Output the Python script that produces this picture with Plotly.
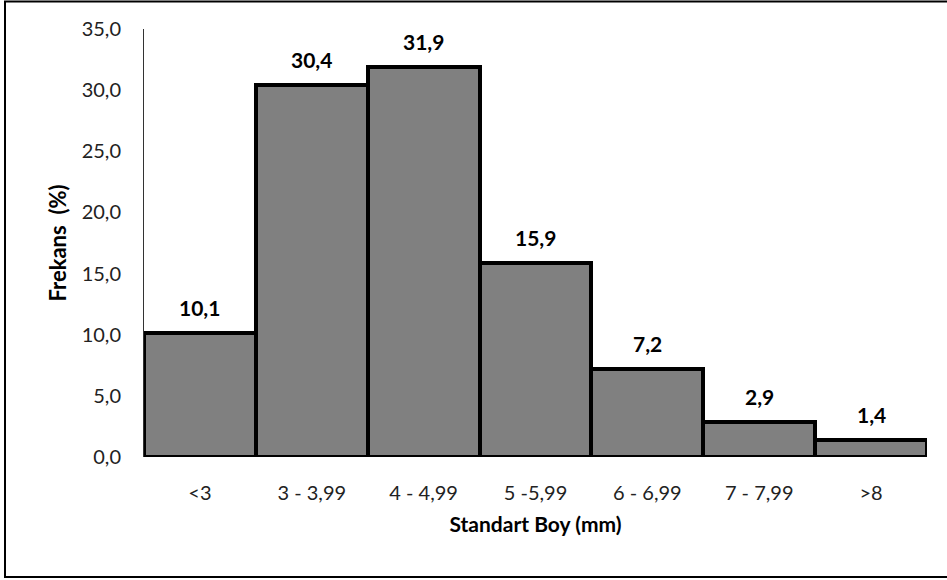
import plotly.graph_objects as go

categories = ["<3", "3 - 3,99", "4 - 4,99", "5 -5,99", "6 - 6,99", "7 - 7,99", ">8"]
values = [10.1, 30.4, 31.9, 15.9, 7.2, 2.9, 1.4]
y_ticks = [0, 5, 10, 15, 20, 25, 30, 35]
y_tick_labels = [f"{v:.1f}".replace(".", ",") for v in y_ticks]
value_labels = [f"{v:.1f}".replace(".", ",") for v in values]

FONT = "Lato, 'Open Sans', sans-serif"

fig = go.Figure()
fig.add_trace(go.Bar(
    x=categories, y=values,
    marker=dict(color="#808080", line=dict(color="black", width=4)),
    hoverinfo="skip",
))

for c, v, t in zip(categories, values, value_labels):
    fig.add_annotation(x=c, y=v, text=f"<b>{t}</b>", showarrow=False,
                       yanchor="bottom", yshift=11,
                       font=dict(family=FONT, size=21, color="black"))

fig.update_layout(
    width=947, height=580,
    margin=dict(l=144, r=20, t=29, b=123),
    paper_bgcolor="white", plot_bgcolor="white",
    bargap=0, showlegend=False,
    font=dict(family=FONT, size=20, color="#333333"),
)
fig.update_xaxes(
    showline=False, showgrid=False, ticks="", ticklabelstandoff=22,
    tickfont=dict(family=FONT, size=20, color="#222222"),
    title=dict(text="<b>Standart Boy (mm)</b>", standoff=14,
               font=dict(family=FONT, size=21, color="black")),
)
fig.update_yaxes(
    range=[0, 35], tickvals=y_ticks, ticktext=y_tick_labels,
    showline=True, linecolor="#333333", linewidth=1,
    showgrid=False, zeroline=False, ticks="", ticklabelstandoff=18,
    tickfont=dict(family=FONT, size=20, color="#222222"),
    title=dict(text="<b>Frekans  (%)</b>", standoff=8,
               font=dict(family=FONT, size=22, color="black")),
)

# outer chart border (paper coords relative to plot area)
fig.add_shape(type="rect", xref="paper", yref="paper",
              x0=(5 - 144) / 783, x1=(950 - 144) / 783,
              y0=(457 - 577) / 428, y1=(457 - 1.5) / 428,
              line=dict(color="black", width=2), fillcolor="rgba(0,0,0,0)",
              layer="below")

fig.write_html("out.html")
